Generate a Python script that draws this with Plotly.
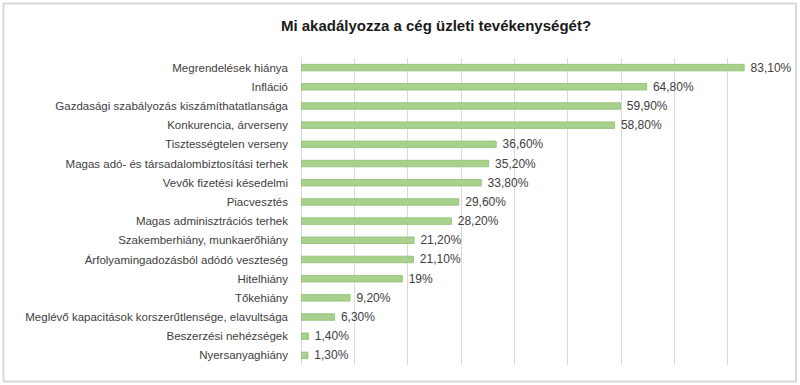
import plotly.graph_objects as go

categories = [
    "Megrendelések hiánya",
    "Infláció",
    "Gazdasági szabályozás kiszámíthatatlansága",
    "Konkurencia, árverseny",
    "Tisztességtelen verseny",
    "Magas adó- és társadalombiztosítási terhek",
    "Vevők fizetési késedelmi",
    "Piacvesztés",
    "Magas adminisztrációs terhek",
    "Szakemberhiány, munkaerőhiány",
    "Árfolyamingadozásból adódó veszteség",
    "Hitelhiány",
    "Tőkehiány",
    "Meglévő kapacitások korszerűtlensége, elavultsága",
    "Beszerzési nehézségek",
    "Nyersanyaghiány",
]
values = [83.1, 64.8, 59.9, 58.8, 36.6, 35.2, 33.8, 29.6, 28.2, 21.2, 21.1, 19.0, 9.2, 6.3, 1.4, 1.3]
value_labels = ["83,10%", "64,80%", "59,90%", "58,80%", "36,60%", "35,20%", "33,80%", "29,60%",
                "28,20%", "21,20%", "21,10%", "19%", "9,20%", "6,30%", "1,40%", "1,30%"]

fig = go.Figure(go.Bar(
    y=categories,
    x=values,
    orientation="h",
    text=[" " + t for t in value_labels],
    textposition="outside",
    constraintext="none",
    cliponaxis=False,
    textfont=dict(family="Liberation Sans", size=12, color="#404040"),
    marker=dict(color="#A9D18E", line=dict(color="#8DBF6E", width=0.8)),
    hoverinfo="skip",
))

fig.update_layout(
    width=800, height=385,
    margin=dict(l=301, r=19, t=58, b=20, autoexpand=False),
    paper_bgcolor="white",
    plot_bgcolor="white",
    bargap=0.66,
    showlegend=False,
    uniformtext=dict(minsize=12, mode="show"),
    title=dict(text="<b>Mi akadályozza a cég üzleti tevékenységét?</b>",
               x=436 / 800, xanchor="center", xref="container",
               y=1 - 26 / 385, yanchor="middle", yref="container",
               font=dict(family="Liberation Sans", size=15, color="#1a1a1a")),
    xaxis=dict(range=[0, 90], dtick=10, showticklabels=False, showgrid=True,
               gridcolor="#D9D9D9", gridwidth=1, zeroline=True, zerolinecolor="#D9D9D9",
               zerolinewidth=1, fixedrange=True, automargin=False),
    yaxis=dict(autorange="reversed", tickfont=dict(family="Liberation Sans", size=11.5, color="#404040"),
               ticks="", ticklabelstandoff=12, showgrid=False, fixedrange=True, automargin=False),
    shapes=[dict(type="rect", xref="paper", yref="paper",
                 x0=(3.5 - 301) / 480, x1=(796 - 301) / 480,
                 y0=(365 - 381.5) / 307, y1=(365 - 3.5) / 307,
                 line=dict(color="#D9D9D9", width=2), fillcolor="rgba(0,0,0,0)")],
)

fig.write_html("out.html", config={"displayModeBar": False},
               post_script="document.body.style.margin='0';document.body.style.overflow='hidden';")
